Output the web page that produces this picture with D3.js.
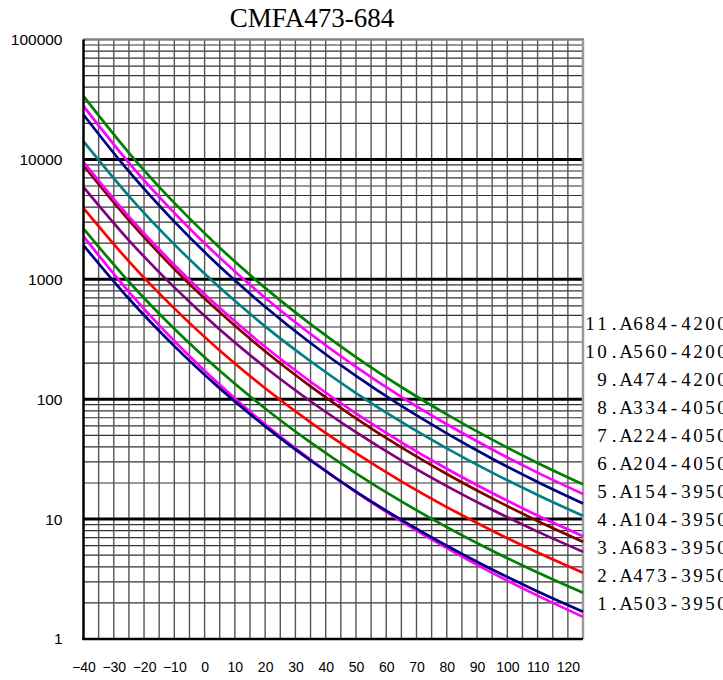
<!DOCTYPE html>
<html>
<head>
<meta charset="utf-8">
<script src="https://cdn.jsdelivr.net/npm/d3@7"></script>
<style>
  body { margin: 0; background: #fff; }
  .axis text { font-family: "Liberation Sans", Arial, sans-serif; fill: #000; }
</style>
</head>
<body>
<svg id="chart" width="723" height="680"></svg>
<script>
// R-T curves, resistance in kOhm vs temperature in degC
var temps = [-40, -25, -10, 5, 20, 35, 50, 65, 80, 95, 110, 125];

var r503 = [2280, 786, 306, 131.8, 61.8, 31.3, 16.8, 9.58, 5.72, 3.56, 2.30, 1.53];
var r473 = [1920, 688, 277, 123.1, 59.4, 30.8, 16.97, 9.86, 6.0, 3.80, 2.49, 1.69];
var r683 = [2646, 954, 386.5, 172.6, 83.7, 43.6, 24.1, 14.04, 8.57, 5.44, 3.58, 2.43];
var r104 = [3930, 1413, 572, 255, 123.5, 64.2, 35.5, 20.65, 12.6, 8.0, 5.26, 3.57];
var r154 = [5880, 2115, 856, 381.5, 184.8, 96.1, 53.1, 30.9, 18.85, 11.96, 7.86, 5.34];
var r204 = [8900, 3105, 1220, 530, 250.9, 127.8, 69.2, 39.6, 23.8, 14.9, 9.65, 6.47];
var r224 = [9500, 3333, 1317, 575, 273.5, 139.8, 76.0, 43.7, 26.3, 16.5, 10.7, 7.2];
var r334 = [14125, 4949, 1954, 853, 405.3, 207.2, 112.6, 64.6, 38.9, 24.4, 15.9, 10.65];
var r474 = [23580, 7935, 3026, 1279, 591, 294.2, 156.2, 87.8, 51.9, 31.9, 20.4, 13.5];
var r560 = [27800, 9374, 3579, 1516, 701, 349.6, 185.8, 104.5, 61.8, 38.1, 24.4, 16.2];
var r684 = [33700, 11360, 4334, 1835, 848, 423, 224.7, 126.4, 74.7, 46.0, 29.4, 19.5];

var names = ["1.A503-3950", "2.A473-3950", "3.A683-3950", "4.A104-3950", "5.A154-3950",
             "6.A204-4050", "7.A224-4050", "8.A334-4050", "9.A474-4200", "10.A560-4200",
             "11.A684-4200"];
var values = [r503, r473, r683, r104, r154, r204, r224, r334, r474, r560, r684];
var colors = ["#ff00ff", "#000080", "#008000", "#ff0000", "#800080", "#800000",
              "#ff00ff", "#008080", "#000080", "#ff00ff", "#008000"];

var xTicks = [-40, -30, -20, -10, 0, 10, 20, 30, 40, 50, 60, 70, 80, 90, 100, 110, 120];
var yTicks = [1, 10, 100, 1000, 10000, 100000];

var title = "CMFA473-684";

var margin = { left: 83.5, right: 583, top: 39.5, bottom: 639 };

var svg = d3.select("#chart");

var x = d3.scaleLinear().domain([-40, 125]).range([margin.left, margin.right]);
var y = d3.scaleLog().domain([1, 100000]).range([margin.bottom, margin.top]);

// grid
var grid = svg.append("g");

var minor = [];
yTicks.slice(0, -1).forEach(function(d) {
  for (var k = 2; k < 10; k++) minor.push(d * k);
});

grid.selectAll("line.hminor")
  .data(minor)
  .enter().append("line")
  .attr("x1", margin.left).attr("x2", margin.right)
  .attr("y1", function(d) { return y(d); })
  .attr("y2", function(d) { return y(d); })
  .attr("stroke", "#333")
  .attr("stroke-width", 1.2);

grid.selectAll("line.v")
  .data(d3.range(-35, 125, 5))
  .enter().append("line")
  .attr("x1", function(d) { return x(d); })
  .attr("x2", function(d) { return x(d); })
  .attr("y1", margin.top).attr("y2", margin.bottom)
  .attr("stroke", "#555")
  .attr("stroke-width", 1.4);

grid.selectAll("line.major")
  .data([10, 100, 1000, 10000])
  .enter().append("line")
  .attr("x1", margin.left).attr("x2", margin.right)
  .attr("y1", function(d) { return y(d); })
  .attr("y2", function(d) { return y(d); })
  .attr("stroke", "#000")
  .attr("stroke-width", 3);

// plot border: gray top/right, black left/bottom
svg.append("line")
  .attr("x1", margin.left).attr("x2", margin.right + 1)
  .attr("y1", margin.top).attr("y2", margin.top)
  .attr("stroke", "#808080").attr("stroke-width", 2.5);
svg.append("line")
  .attr("x1", margin.right).attr("x2", margin.right)
  .attr("y1", margin.top).attr("y2", margin.bottom)
  .attr("stroke", "#9a9a9a").attr("stroke-width", 2.5);

// curves
var line = d3.line()
  .x(function(d) { return x(d[0]); })
  .y(function(d) { return y(d[1]); })
  .curve(d3.curveMonotoneX);

svg.append("g").selectAll("path")
  .data(values)
  .enter().append("path")
  .attr("d", function(v) { return line(temps.map(function(t, i) { return [t, v[i]]; })); })
  .attr("fill", "none")
  .attr("stroke", function(v, i) { return colors[i]; })
  .attr("stroke-width", 2.7);

svg.append("line")
  .attr("x1", margin.left - 1).attr("x2", margin.right)
  .attr("y1", margin.bottom).attr("y2", margin.bottom)
  .attr("stroke", "#000").attr("stroke-width", 2.5);
svg.append("line")
  .attr("x1", margin.left).attr("x2", margin.left)
  .attr("y1", margin.top).attr("y2", margin.bottom + 1)
  .attr("stroke", "#000").attr("stroke-width", 2.5);

// axes
var yAxis = svg.append("g")
  .attr("class", "axis")
  .attr("transform", "translate(" + margin.left + ",0)")
  .call(d3.axisLeft(y).tickValues(yTicks).tickFormat(d3.format("d")).tickSize(0).tickPadding(21));
yAxis.select(".domain").remove();
yAxis.selectAll("text").style("font-size", "15.5px");

var xAxis = svg.append("g")
  .attr("class", "axis")
  .attr("transform", "translate(0," + margin.bottom + ")")
  .call(d3.axisBottom(x).tickValues(xTicks).tickFormat(d3.format("d")).tickSize(0).tickPadding(23));
xAxis.select(".domain").remove();
xAxis.selectAll("text").style("font-size", "14px");

// title
svg.append("text")
  .attr("x", 312).attr("y", 27)
  .attr("text-anchor", "middle")
  .style("font-family", "'Liberation Serif', 'Times New Roman', serif")
  .style("font-size", "27px")
  .text(title);

// legend, laid out in fixed-width cells like the original
var cell = 12;
svg.append("g").selectAll("text")
  .data(names)
  .enter().append("text")
  .attr("y", function(d, i) { return 330 + (10 - i) * 28; })
  .attr("x", function(d) {
    var start = d.indexOf(".") === 1 ? 1 : 0;
    return d.split("").map(function(c, j) { return 584 + cell / 2 + (start + j) * cell; }).join(" ");
  })
  .attr("text-anchor", "middle")
  .style("font-family", "'Liberation Serif', 'Times New Roman', serif")
  .style("font-size", "19px")
  .text(function(d) { return d; });
</script>
</body>
</html>
